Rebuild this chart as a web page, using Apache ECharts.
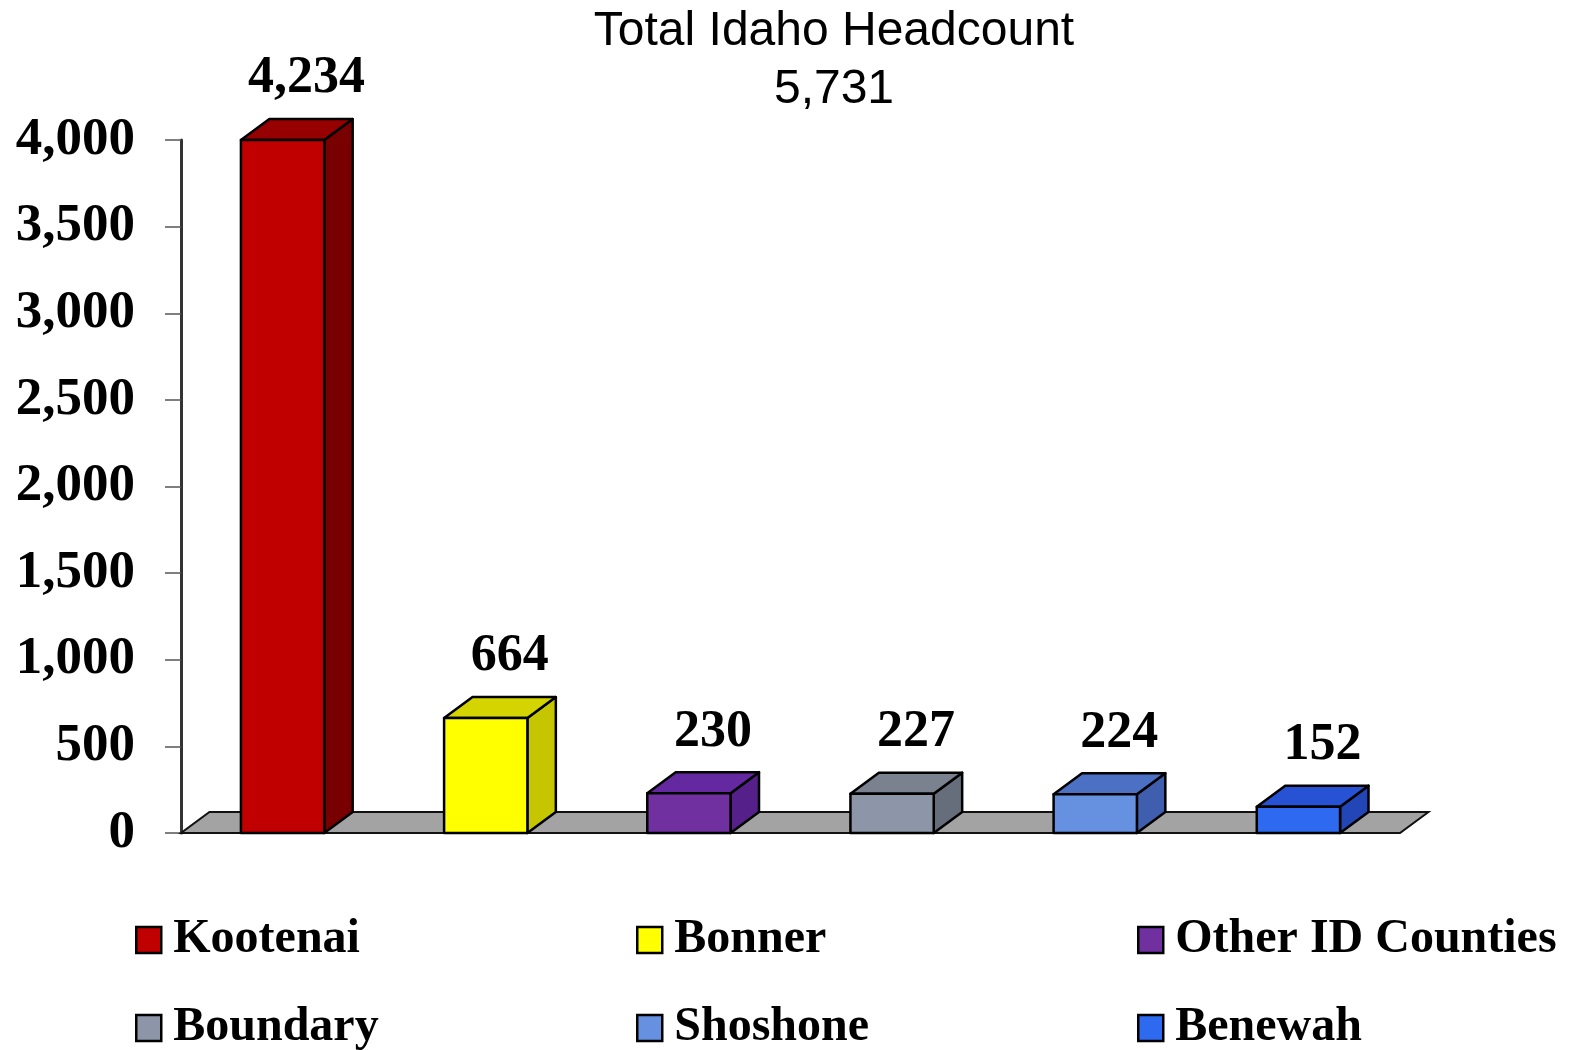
<!DOCTYPE html>
<html>
<head>
<meta charset="utf-8">
<title>Total Idaho Headcount</title>
<script src="https://cdn.jsdelivr.net/npm/echarts@6/dist/echarts.min.js"></script>
<style>
  html, body { margin: 0; padding: 0; background: #fff; }
  #chart { width: 1571px; height: 1050px; }
</style>
</head>
<body>
<div id="chart"></div>
<script>
// data
const categories = ['Kootenai', 'Bonner', 'Other ID Counties', 'Boundary', 'Shoshone', 'Benewah']
const values = [4234, 664, 230, 227, 224, 152]
const yTicks = [0, 500, 1000, 1500, 2000, 2500, 3000, 3500, 4000]
const totalHeadcount = 5731

// face colours: front / top / side
const frontColors = ['#C00000', '#FFFF00', '#7030A0', '#8C96A8', '#6690E0', '#2E6AF0']
const topColors = ['#960000', '#D4D400', '#6429A0', '#7A828F', '#4C70C4', '#2852D4']
const sideColors = ['#780000', '#C6C600', '#56208A', '#666E7C', '#3F5FAE', '#2246B6']

// legend slots (left, top), 3 columns x 2 rows
const legendLeft = [135, 636, 1137, 135, 636, 1137]
const legendTop = [916, 916, 916, 1004, 1004, 1004]

const serifBold = { fontFamily: '"Liberation Serif", "Times New Roman", serif', fontWeight: 'bold', color: '#000' }

const chart = echarts.init(document.getElementById('chart'))

function depth(api) {
  const band = api.size([1, 0])[0]
  return { dx: band * 0.14, dy: -21 }
}

function renderBar(params, api) {
  const i = params.seriesIndex - 1
  const band = api.size([1, 0])[0]
  const w = band * 0.41
  const base = api.coord([api.value(0), 0])
  let yTop = api.coord([api.value(0), api.value(1)])[1]
  yTop = Math.max(yTop, params.coordSys.y)
  const x0 = base[0] - w / 2
  const x1 = base[0] + w / 2
  const yBot = base[1]
  const d = depth(api)
  const stroke = { stroke: '#000', lineWidth: 2.5, lineJoin: 'round' }
  return {
    type: 'group',
    children: [
      {
        type: 'polygon',
        shape: { points: [[x1, yBot], [x1, yTop], [x1 + d.dx, yTop + d.dy], [x1 + d.dx, yBot + d.dy]] },
        style: Object.assign({ fill: sideColors[i] }, stroke)
      },
      {
        type: 'polygon',
        shape: { points: [[x0, yTop], [x1, yTop], [x1 + d.dx, yTop + d.dy], [x0 + d.dx, yTop + d.dy]] },
        style: Object.assign({ fill: topColors[i] }, stroke)
      },
      {
        type: 'rect',
        shape: { x: x0, y: yTop, width: w, height: yBot - yTop },
        style: Object.assign({ fill: frontColors[i] }, stroke)
      },
      {
        type: 'text',
        x: base[0] + 24,
        y: yTop + d.dy - 40,
        style: {
          text: api.value(1).toLocaleString('en-US'),
          fontFamily: serifBold.fontFamily,
          fontWeight: 'bold',
          fontSize: 52,
          fill: '#000',
          align: 'center',
          verticalAlign: 'middle'
        }
      }
    ]
  }
}

function renderFloor(params, api) {
  const r = params.coordSys
  const d = depth(api)
  const yb = r.y + r.height
  return {
    type: 'polygon',
    shape: { points: [[r.x, yb], [r.x + r.width, yb], [r.x + r.width + d.dx, yb + d.dy], [r.x + d.dx, yb + d.dy]] },
    style: { fill: '#A3A3A3', stroke: '#111', lineWidth: 2 }
  }
}

const series = [{
  type: 'custom',
  name: 'floor',
  silent: true,
  z: 1,
  data: [[0, 0]],
  renderItem: renderFloor
}].concat(categories.map((name, i) => ({
  type: 'custom',
  name: name,
  z: 2,
  itemStyle: { color: frontColors[i] },
  data: [[i, values[i]]],
  encode: { x: 0, y: 1 },
  renderItem: renderBar
})))

const legends = categories.map((name, i) => ({
  left: legendLeft[i],
  top: legendTop[i],
  padding: 0,
  data: [name],
  icon: 'rect',
  itemWidth: 25,
  itemHeight: 26,
  selectedMode: false,
  itemStyle: { borderColor: '#000', borderWidth: 2.5 },
  textStyle: Object.assign({ fontSize: 48, padding: [0, 0, 0, 7] }, serifBold)
}))

chart.setOption({
  animation: false,
  backgroundColor: '#fff',
  title: {
    text: 'Total Idaho Headcount\n' + totalHeadcount.toLocaleString('en-US'),
    left: 829,
    top: -2,
    textAlign: 'center',
    textStyle: {
      fontFamily: '"Liberation Sans", Arial, sans-serif',
      fontWeight: 'normal',
      fontSize: 48,
      lineHeight: 58,
      color: '#000'
    }
  },
  legend: legends,
  grid: { left: 181, right: 171, top: 140, bottom: 217 },
  xAxis: {
    type: 'category',
    data: categories,
    axisLine: { show: false },
    axisTick: { show: false },
    axisLabel: { show: false },
    splitLine: { show: false }
  },
  yAxis: {
    type: 'value',
    min: yTicks[0],
    max: yTicks[yTicks.length - 1],
    interval: yTicks[1] - yTicks[0],
    axisLine: { show: true, lineStyle: { color: '#333', width: 3 } },
    axisTick: { show: true, length: 16, lineStyle: { color: '#555', width: 1.5 } },
    axisLabel: Object.assign({
      fontSize: 53,
      margin: 46,
      formatter: v => v.toLocaleString('en-US')
    }, serifBold),
    splitLine: { show: false }
  },
  series: series
})
</script>
</body>
</html>
